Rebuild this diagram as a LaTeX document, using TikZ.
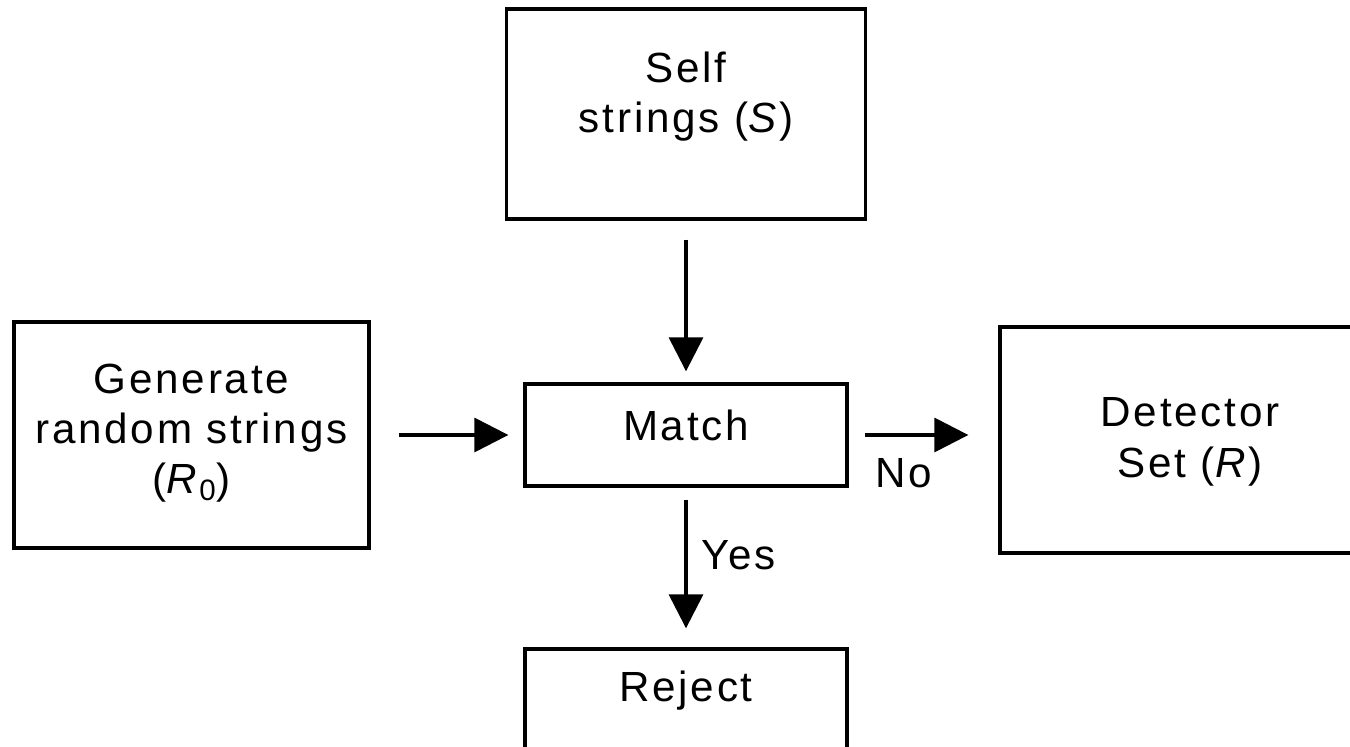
\documentclass[tikz,border=0pt]{standalone}
\usepackage{fontspec}
\setmainfont[LetterSpace=6.5]{Liberation Sans}
\usetikzlibrary{arrows.meta}
\newcommand{\boxlines}[2]{\raisebox{#1}[0pt][0pt]{\begin{tabular}[b]{@{}c@{}}#2\end{tabular}}}

\begin{document}
\begin{tikzpicture}[-{Triangle[length=0.68cm,width=0.68cm]},line width=1.9pt,
    font=\fontsize{24}{28.5}\selectfont,
    block/.style={draw,rectangle,inner sep=0pt},
    lbl/.style={inner sep=0pt}]
    \path[use as bounding box,clip] (0,0) rectangle (27,14.92);
    \node[block,minimum width=6.44cm,minimum height=2.04cm] (match) at (13.72,6.22) {\boxlines{-0.1cm}{Match}};
    \node[block,minimum width=7.18cm,minimum height=4.2cm] (self) [above of=match,node distance=6.42cm] {\boxlines{-0.38cm}{Self\\strings (\textit{S})}};
    \node[block,minimum width=7.1cm,minimum height=4.52cm] (gen) [left of=match,node distance=9.89cm] {\boxlines{-1.18cm}{Generate\\random strings\\(\textit{R}\textsubscript{0})}};
    \node[block,minimum width=7.6cm,minimum height=4.52cm] (det) [right of=match,node distance=10.08cm,yshift=-0.1cm] {\boxlines{-0.74cm}{Detector\\Set (\textit{R})}};
    \node[block,minimum width=6.44cm,minimum height=2.04cm] (reject) [below of=match,node distance=5.3cm] {\boxlines{-0.02cm}{Reject}};
    \draw[shorten <=0.38cm,shorten >=0.22cm] (self.south) -- (match.north);
    \draw[shorten <=0.56cm,shorten >=0.3cm] (gen.east) -- (match.west);
    \draw[shorten <=0.32cm,shorten >=0.6cm] (match.east) -- node[lbl,pos=0.17,anchor=north west,yshift=-0.44cm] {No} (match.east -| det.west);
    \draw[shorten <=0.24cm,shorten >=0.38cm] (match.south) -- node[lbl,pos=0.32,anchor=north west,xshift=0.28cm] {Yes} (reject.north);
\end{tikzpicture}
\end{document}
